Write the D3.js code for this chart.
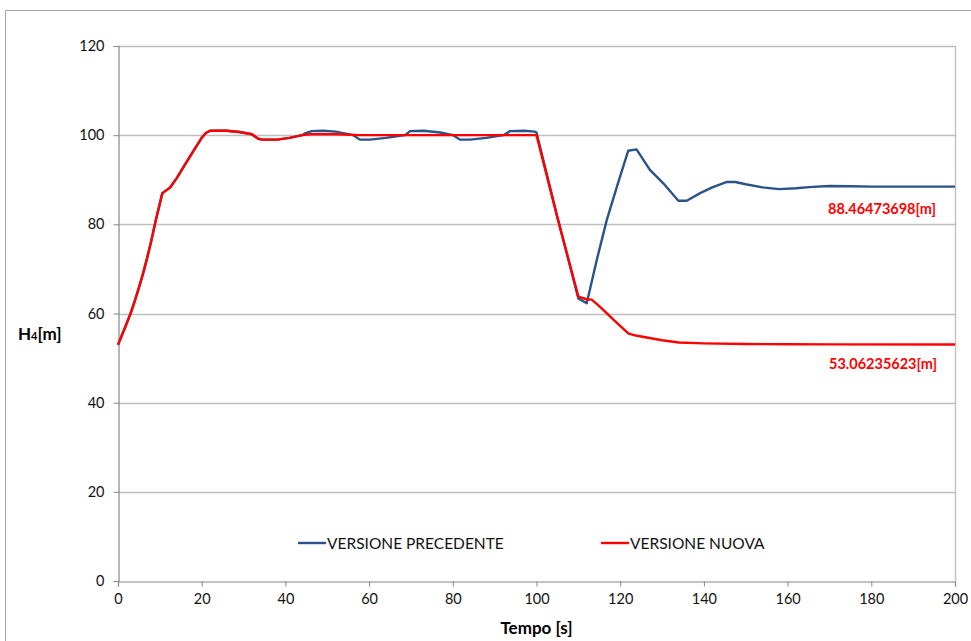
<!DOCTYPE html>
<html>
<head>
<meta charset="utf-8">
<script src="https://cdn.jsdelivr.net/npm/d3@7"></script>
<style>
  html, body { margin: 0; padding: 0; background: #fff; }
  svg { display: block; font-family: Lato, "Open Sans", sans-serif; }
</style>
</head>
<body>
<svg id="chart" width="971" height="641"></svg>
<script>
// Piezometric head H4 over time, previous vs new version of the model
const seriesNames = ["VERSIONE PRECEDENTE", "VERSIONE NUOVA"];
const seriesColors = ["#2B5289", "#FF0000"];

const xTicks = [0, 20, 40, 60, 80, 100, 120, 140, 160, 180, 200];
const yTicks = [0, 20, 40, 60, 80, 100, 120];

// VERSIONE NUOVA
const newTime = [0, 1, 2, 3, 4, 5, 6, 7, 8, 9, 10.6, 12.4, 14, 16, 18, 20, 21, 22, 26, 29, 32, 33.5, 34.5, 38, 41, 44, 46, 52, 58,
  70, 80, 90, 100, 105, 110, 112, 113.2, 115.2, 118.5, 122, 124, 127, 130, 134, 140, 150, 160, 170, 200];
const newH = [53.0, 55.3, 57.6, 60.0, 62.8, 65.8, 69.0, 72.6, 76.5, 80.8, 87.0, 88.2, 90.3, 93.4, 96.4, 99.4, 100.5, 101.0, 101.0, 100.7, 100.2, 99.2, 99.0, 99.0, 99.4, 100.0, 100.2, 100.2, 100.0,
  100.0, 100.0, 100.0, 100.0, 81.5, 63.8, 63.2, 63.1, 61.5, 58.5, 55.5, 55.0, 54.5, 54.0, 53.5, 53.3, 53.15, 53.1, 53.08, 53.06235623];

// VERSIONE PRECEDENTE
const prevTime = [0, 1, 2, 3, 4, 5, 6, 7, 8, 9, 10.6, 12.4, 14, 16, 18, 20, 21, 22, 26, 29, 32, 33.5, 34.5, 38, 41, 44,
  44.7, 46.3, 49, 52, 56.2, 57.8, 60.2, 64, 68.6, 69.8, 73, 77, 80.1, 81.7, 84.1, 88, 92.1, 93.7, 97, 99.6, 100,
  105, 110, 112, 114.4, 116.8, 119.2, 121.9, 123.9, 127.1, 130.3, 133.9, 135.9, 139.1, 142, 145.5, 147.5, 150,
  154, 158, 162, 166, 170, 175, 180, 190, 200];
const prevH = [53.0, 55.3, 57.6, 60.0, 62.8, 65.8, 69.0, 72.6, 76.5, 80.8, 87.0, 88.2, 90.3, 93.4, 96.4, 99.4, 100.5, 101.0, 101.0, 100.7, 100.2, 99.2, 99.0, 99.0, 99.4, 100.0,
  100.4, 100.9, 101.0, 100.8, 100.0, 99.0, 99.0, 99.4, 100.0, 100.9, 101.0, 100.6, 100.0, 99.0, 99.0, 99.4, 100.0, 100.9, 101.0, 100.8, 100.6,
  81.6, 63.4, 62.3, 72.0, 81.0, 88.4, 96.5, 96.8, 92.2, 89.2, 85.3, 85.3, 87.0, 88.3, 89.5, 89.5, 89.0,
  88.3, 87.9, 88.1, 88.4, 88.6, 88.55, 88.45, 88.46, 88.46473698];

const finalLabels = ["88.46473698[m]", "53.06235623[m]"];

const svg = d3.select("#chart");
const W = 971, H = 641;
const plot = { left: 118, right: 955, top: 46, bottom: 581 };

// outer chart frame
svg.append("path")
  .attr("d", `M5.5,${H} V10.5 H${W}`)
  .attr("fill", "none").attr("stroke", "#A6A6A6").attr("stroke-width", 1);

const x = d3.scaleLinear().domain([0, 200]).range([plot.left, plot.right]);
const y = d3.scaleLinear().domain([0, 120]).range([plot.bottom, plot.top]);

// horizontal gridlines
svg.append("g").selectAll("line").data(yTicks.filter(d => d > 0)).join("line")
  .attr("x1", plot.left).attr("x2", plot.right)
  .attr("y1", d => Math.round(y(d)) + 0.5).attr("y2", d => Math.round(y(d)) + 0.5)
  .attr("stroke", "#BEBEBE").attr("stroke-width", 1.3);

// right edge of plot area
svg.append("line")
  .attr("x1", plot.right + 0.5).attr("x2", plot.right + 0.5)
  .attr("y1", plot.top).attr("y2", plot.bottom)
  .attr("stroke", "#BEBEBE").attr("stroke-width", 1.3);

// axes
const xAxis = svg.append("g")
  .attr("transform", `translate(0,${Math.round(plot.bottom) + 0.5})`)
  .call(d3.axisBottom(x).tickValues(xTicks).tickSize(5).tickPadding(7).tickFormat(d3.format("d")));
const yAxis = svg.append("g")
  .attr("transform", `translate(${plot.left + 0.5},0)`)
  .call(d3.axisLeft(y).tickValues(yTicks).tickSize(5).tickPadding(8).tickFormat(d3.format("d")));

[xAxis, yAxis].forEach(g => {
  g.select(".domain").attr("stroke", "#868686").attr("stroke-width", 1.2);
  g.selectAll(".tick line").attr("stroke", "#868686");
  g.selectAll(".tick text").attr("fill", "#111").style("font-size", "14.5px")
    .style("font-family", "Lato, sans-serif");
});
yAxis.selectAll(".tick text").attr("dx", "-1");

// series lines
const line = d3.line().x(d => x(d[0])).y(d => y(d[1])).curve(d3.curveLinear);
const seriesData = [
  d3.zip(prevTime, prevH),
  d3.zip(newTime, newH)
];
seriesData.forEach((pts, i) => {
  svg.append("path")
    .datum(pts)
    .attr("fill", "none")
    .attr("stroke", seriesColors[i])
    .attr("stroke-width", 2.4)
    .attr("stroke-linejoin", "round")
    .attr("d", line);
});

// final value labels
const lastPrev = prevH[prevH.length - 1];
const lastNew = newH[newH.length - 1];
svg.append("text")
  .attr("x", x(200) - 19).attr("y", y(lastPrev) + 27)
  .attr("text-anchor", "end")
  .attr("fill", "#FF0000").style("font-weight", "bold").style("font-size", "14.5px")
  .text(finalLabels[0]);
svg.append("text")
  .attr("x", x(200) - 18).attr("y", y(lastNew) + 25)
  .attr("text-anchor", "end")
  .attr("fill", "#FF0000").style("font-weight", "bold").style("font-size", "14.5px")
  .text(finalLabels[1]);

// axis titles
const yTitle = svg.append("text")
  .attr("x", 18).attr("y", 340)
  .attr("fill", "#000").style("font-weight", "bold").style("font-size", "17px");
yTitle.append("tspan").text("H");
yTitle.append("tspan").style("font-size", "11px").text("4");
yTitle.append("tspan").text("[m]");

svg.append("text")
  .attr("x", (plot.left + plot.right) / 2).attr("y", 634)
  .attr("text-anchor", "middle")
  .attr("fill", "#000").style("font-weight", "bold").style("font-size", "17px")
  .text("Tempo [s]");

// legend
const legendPos = [298, 601];
const legendY = 543;
seriesNames.forEach((name, i) => {
  const g = svg.append("g").attr("transform", `translate(${legendPos[i]},${legendY})`);
  g.append("line").attr("x1", 0).attr("x2", 28).attr("y1", 0).attr("y2", 0)
    .attr("stroke", seriesColors[i]).attr("stroke-width", 2.4);
  g.append("text").attr("x", 29).attr("y", 5.5)
    .attr("fill", "#111").style("font-size", "15.5px")
    .text(name);
});
</script>
</body>
</html>
